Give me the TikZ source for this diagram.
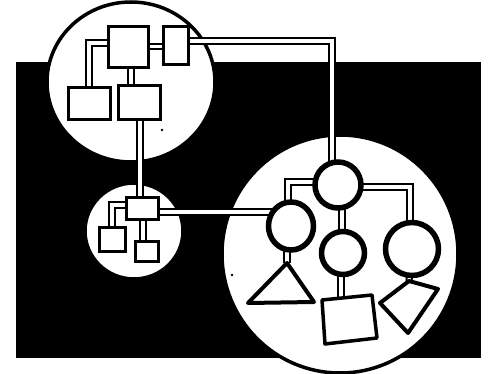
\documentclass[tikz,border=0pt]{standalone}
\usetikzlibrary{shapes.geometric}
\pgfdeclarelayer{bgA}
\pgfdeclarelayer{bgB}
\pgfsetlayers{bgA,bgB,main}
\begin{document}
\begin{tikzpicture}[x=1pt,y=-1pt,
  box/.style={rectangle, draw=black, fill=white, line width=3pt, inner sep=0pt, outer sep=0pt},
  ring/.style={circle, draw=black, fill=white, line width=5.5pt, inner sep=0pt, outer sep=0pt},
  oring/.style={ellipse, draw=black, fill=white, line width=5.5pt, inner sep=0pt, outer sep=0pt},
  conn/.style={draw=black, line width=2pt, double=white, double distance=3.2pt, line join=miter},
  blob/.style={draw=black, fill=white, line width=3.5pt},
  shapeline/.style={draw=black, fill=white, line width=4pt, line join=round}]
\useasboundingbox (0,0) rectangle (491,374);

\begin{pgfonlayer}{bgA}
  \fill[black] (16,62) rectangle (481,358);
  \draw[blob] (131,82) ellipse [x radius=84pt, y radius=80pt];
  \draw[blob] (340,254) ellipse [x radius=118pt, y radius=119pt];
  \draw[blob] (134,231) ellipse [x radius=49pt, y radius=48pt];
  \fill[black] (162,130) circle (1.4pt);
  \fill[black] (232,275) circle (1.4pt);
\end{pgfonlayer}

% boxes
\node[box, minimum width=40pt, minimum height=41pt] (b1) at (128,47.5) {};
\node[box, minimum width=25pt, minimum height=38pt] (b2) at (175.5,46) {};
\node[box, minimum width=42pt, minimum height=32pt] (b3) at (89,104) {};
\node[box, minimum width=42pt, minimum height=34pt] (b4) at (139,103) {};
\node[box, minimum width=32pt, minimum height=22pt] (b5) at (142,209) {};
\node[box, minimum width=26pt, minimum height=24pt] (b6) at (112,240) {};
\node[box, minimum width=23pt, minimum height=20pt] (b7) at (146.5,252) {};

% circles
\node[ring, minimum size=46pt] (c1) at (338,185) {};
\node[oring, minimum width=45pt, minimum height=48pt] (c2) at (291,226) {};
\node[ring, minimum size=43pt] (c3) at (343,253) {};
\node[ring, minimum size=53pt] (c4) at (412,249) {};

% polygons
\coordinate (ta) at (287,263);
\coordinate (tb) at (248,303);
\coordinate (tc) at (314,302);
\draw[shapeline] (ta) -- (tb) -- (tc) -- cycle;
\coordinate (sa) at (322,300);
\coordinate (sb) at (372,295);
\coordinate (sc) at (377,338);
\coordinate (sd) at (325,344);
\coordinate (sqc) at (341,320);
\draw[shapeline, line width=3.5pt] (sa) -- (sb) -- (sc) -- (sd) -- cycle;
\coordinate (ka) at (380,303);
\coordinate (kb) at (409,281);
\coordinate (kc) at (438,289);
\coordinate (kd) at (408,333);
\draw[shapeline] (ka) -- (kb) -- (kc) -- (kd) -- cycle;

% helper coordinates
\coordinate (v1) at (131,0);
\coordinate (v2) at (332,0);
\coordinate (v3) at (140,0);
\coordinate (v4) at (143,0);
\coordinate (v5) at (288,0);
\coordinate (v6) at (410,0);
\coordinate (v7) at (342,0);
\coordinate (v8) at (287,0);
\coordinate (v9) at (341,0);
\coordinate (h1) at (0,46.5);
\coordinate (h2) at (0,212);

\begin{pgfonlayer}{bgB}
  \draw[conn] (b1.center |- h1) -- (b2.center |- h1);
  \draw[conn] (b1.center) ++(0,-4.5) -| (b3.center);
  \draw[conn] (b1.center -| v1) -- (b4.center -| v1);
  \draw[conn] (b2.center) ++(0,-5) -| (c1.center -| v2);
  \draw[conn] (b4.center -| v3) -- (b5.center -| v3);
  \draw[conn] (b5.center) ++(0,-4) -| (b6.center);
  \draw[conn] (b5.center -| v4) -- (b7.center -| v4);
  \draw[conn] (b5.center |- h2) -- (c2.center |- h2);
  \draw[conn] (c1.center) ++(0,-3) -| (c2.center -| v5);
  \draw[conn] (c1.center) ++(0,2) -| (c4.center -| v6);
  \draw[conn] (c1.center -| v7) -- (c3.center -| v7);
  \draw[conn] (c2.center -| v8) -- (ta);
  \draw[conn] (c3.center -| v9) -- (sqc);
  \draw[conn] (c4.center) -- (kb);
\end{pgfonlayer}
\end{tikzpicture}
\end{document}
